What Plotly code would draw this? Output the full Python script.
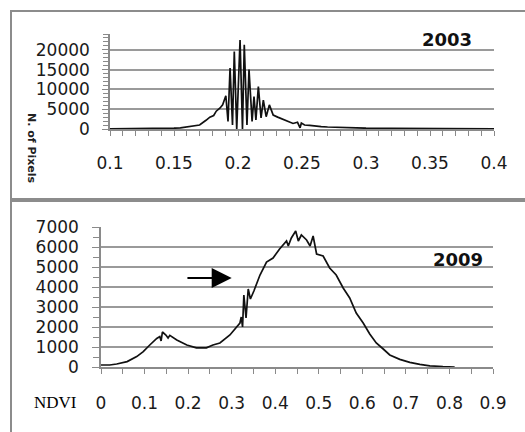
import plotly.graph_objects as go

# ---- 2003 histogram (NDVI vs number of pixels) ----
ndvi_2003 = [0.100, 0.110, 0.120, 0.130, 0.140, 0.150, 0.155, 0.160, 0.165, 0.170,
             0.175, 0.178, 0.181, 0.183, 0.186, 0.188, 0.1905, 0.1922, 0.1938, 0.1957,
             0.1971, 0.1990, 0.2016, 0.2035, 0.2049, 0.2070, 0.2086, 0.2110, 0.2125, 0.2140,
             0.2159, 0.2180, 0.2198, 0.2220, 0.2245, 0.2275, 0.2310, 0.2350, 0.2390, 0.2430,
             0.2465, 0.2485, 0.2495, 0.2520, 0.2560, 0.2600, 0.2650, 0.2700, 0.2800, 0.2900,
             0.3000, 0.3200, 0.3400, 0.3600, 0.3800, 0.4000]
pixels_2003 = [50, 60, 80, 100, 120, 200, 300, 500, 700, 1000,
               2200, 3000, 3400, 4500, 5300, 6100, 8400, 1900, 15400, 1000,
               19600, 0, 22500, 0, 21300, 1000, 15000, 1900, 8200, 2300,
               10700, 2800, 7300, 3100, 6100, 3500, 3000, 2400, 1900, 1400,
               1700, 300, 1500, 1000, 900, 700, 600, 500, 350, 250,
               200, 150, 100, 100, 80, 60]

# ---- 2009 histogram ----
ndvi_2009 = [0.000, 0.020, 0.036, 0.060, 0.082, 0.097, 0.112, 0.128, 0.135, 0.138,
             0.141, 0.149, 0.154, 0.158, 0.174, 0.197, 0.219, 0.242, 0.257, 0.273,
             0.296, 0.311, 0.319, 0.322, 0.325, 0.328, 0.333, 0.338, 0.343, 0.351,
             0.365, 0.380, 0.395, 0.410, 0.426, 0.430, 0.437, 0.447, 0.453, 0.460,
             0.472, 0.480, 0.487, 0.495, 0.510, 0.525, 0.540, 0.556, 0.571, 0.586,
             0.602, 0.617, 0.632, 0.648, 0.663, 0.686, 0.709, 0.732, 0.755, 0.785,
             0.812]
pixels_2009 = [100, 100, 150, 270, 520, 770, 1100, 1430, 1520, 1300,
               1750, 1600, 1450, 1580, 1350, 1100, 960, 960, 1100, 1200,
               1600, 2000, 2200, 2500, 2000, 3600, 2450, 3900, 3400, 3800,
               4600, 5250, 5450, 5900, 6300, 6050, 6450, 6800, 6300, 6600,
               6350, 6050, 6550, 5650, 5550, 4950, 4600, 3950, 3450, 2700,
               2200, 1650, 1200, 900, 600, 380, 230, 130, 60, 20,
               0]

GRID = "#9a9a9a"
AXIS = "#8a8a8a"
TICKFONT = dict(family="DejaVu Sans", size=17, color="#1a1a1a")

fig = go.Figure()
fig.add_trace(go.Scatter(x=ndvi_2003, y=pixels_2003, xaxis="x", yaxis="y", mode="lines",
                         line=dict(color="#111", width=1.7)))
fig.add_trace(go.Scatter(x=ndvi_2009, y=pixels_2009, xaxis="x2", yaxis="y2", mode="lines",
                         line=dict(color="#111", width=1.7)))

W, H = 525, 432

def xd(a, b):
    return [a / W, b / W]

def yd(top, bottom):
    return [1 - bottom / H, 1 - top / H]

fig.update_layout(
    template="none",
    width=W, height=H,
    margin=dict(l=0, r=0, t=0, b=0, pad=0),
    paper_bgcolor="white", plot_bgcolor="white",
    showlegend=False,
    xaxis=dict(domain=xd(110, 494), range=[0.1, 0.4], tick0=0.1, dtick=0.05,
               anchor="y", showgrid=False, zeroline=False, automargin=False,
               showline=True, linecolor=AXIS, linewidth=1.5,
               ticks="outside", ticklen=5, tickcolor=AXIS, tickwidth=1.2,
               minor=dict(dtick=0.01, ticks="outside", ticklen=5, tickcolor=AXIS),
               ticklabelstandoff=13, tickfont=TICKFONT),
    yaxis=dict(domain=yd(34, 129), range=[0, 24000], dtick=5000, tickformat="d",
               anchor="x", showgrid=True, gridcolor=GRID, gridwidth=1.5, zeroline=False,
               automargin=False,
               showline=True, linecolor=AXIS, linewidth=1.5,
               ticks="outside", ticklen=6, tickcolor=AXIS,
               minor=dict(dtick=1000, ticks="outside", ticklen=5, tickcolor=AXIS),
               ticklabelstandoff=9, tickfont=TICKFONT),
    xaxis2=dict(domain=xd(101, 493), range=[0, 0.9], tick0=0, dtick=0.1,
                anchor="y2", showgrid=False, zeroline=False, automargin=False,
                showline=True, linecolor=AXIS, linewidth=1.5,
                ticks="outside", ticklen=5, tickcolor=AXIS, tickwidth=1.2,
                minor=dict(dtick=0.05, ticks="outside", ticklen=5, tickcolor=AXIS),
                ticklabelstandoff=15, tickfont=TICKFONT),
    yaxis2=dict(domain=yd(227, 367), range=[0, 7000], dtick=1000, tickformat="d",
                anchor="x2", showgrid=True, gridcolor=GRID, gridwidth=1.5, zeroline=False,
                automargin=False,
                showline=True, linecolor=AXIS, linewidth=1.5,
                ticks="outside", ticklen=7, tickcolor=AXIS,
                minor=dict(dtick=500, ticks="outside", ticklen=6, tickcolor=AXIS),
                ticklabelstandoff=10, tickfont=TICKFONT),
)

# panel borders
fig.add_shape(type="rect", xref="paper", yref="paper",
              x0=11 / W, x1=1.05, y0=1 - 199 / H, y1=1 - 11 / H,
              line=dict(color="#8c8c8c", width=2))
fig.add_shape(type="rect", xref="paper", yref="paper",
              x0=11 / W, x1=1.05, y0=-0.05, y1=1 - 201 / H,
              line=dict(color="#8c8c8c", width=2))

def label(text, px, py, font, angle=0):
    fig.add_annotation(text=text, xref="paper", yref="paper", x=px / W, y=1 - py / H,
                       xanchor="center", yanchor="middle", showarrow=False,
                       textangle=angle, font=font)

label("<b>2003</b>", 447, 40, dict(family="DejaVu Sans", size=18, color="#111"))
label("<b>2009</b>", 458, 259, dict(family="DejaVu Sans", size=18, color="#111"))
label("<b>N. of Pixels</b>", 32, 148, dict(family="DejaVu Sans", size=11, color="#222"), 90)
label("NDVI", 55, 402, dict(family="Liberation Serif", size=17, color="#000"))

fig.add_annotation(text="", x=0.30, y=4450, ax=0.195, ay=4450,
                   xref="x2", yref="y2", axref="x2", ayref="y2",
                   showarrow=True, arrowhead=2, arrowsize=2, arrowwidth=2, arrowcolor="#000")

fig.write_html("out.html", config={"displayModeBar": False},
               post_script="document.body.style.margin='0';")
